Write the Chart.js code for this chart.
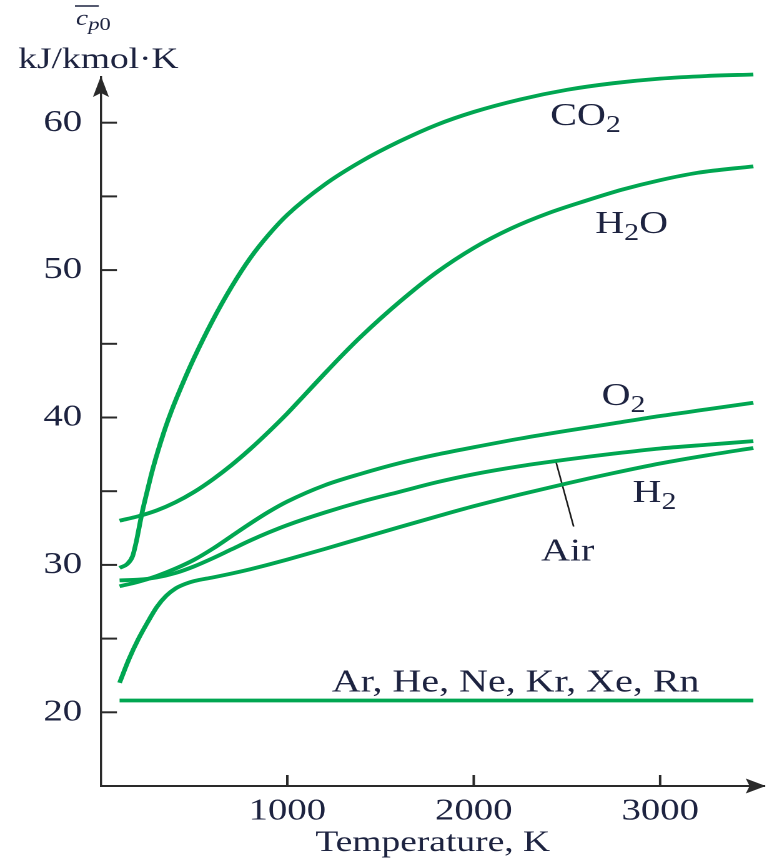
<!DOCTYPE html>
<html>
<head>
<meta charset="utf-8">
<script src="https://cdn.jsdelivr.net/npm/chart.js@4"></script>
<style>
  html, body { margin: 0; padding: 0; background: #fff; overflow: hidden; }
  /* the figure is set in a horizontally widened serif, so the whole canvas is stretched */
  #wrap { position: absolute; left: 0; top: 0; width: 614px; height: 860px;
          transform: scaleX(1.2492); transform-origin: 0 0; }
  canvas { display: block; }
</style>
</head>
<body>
<div id="wrap"><canvas id="chart" width="614" height="860" style="width:614px;height:860px"></canvas></div>
<script>
// Ideal-gas molar heat capacity c̄p0 (kJ/kmol·K) against temperature (K)
const co2T  = [100, 140, 170, 190, 220, 250, 280, 335, 380, 440, 500, 600, 700, 800, 900, 1000, 1200, 1400, 1600, 1800, 2000, 2250, 2500, 2750, 3000, 3250, 3500];
const co2Cp = [29.8, 30.05, 30.6, 31.6, 33.5, 35.1, 36.6, 38.9, 40.5, 42.35, 44.05, 46.6, 48.85, 50.8, 52.4, 53.75, 55.8, 57.4, 58.72, 59.85, 60.73, 61.58, 62.23, 62.68, 62.99, 63.17, 63.27];

const h2oT  = [100, 200, 300, 400, 500, 600, 700, 800, 900, 1000, 1100, 1200, 1300, 1400, 1600, 1800, 2000, 2200, 2400, 2600, 2800, 3000, 3200, 3500];
const h2oCp = [33.0, 33.3, 33.7, 34.25, 34.95, 35.8, 36.77, 37.85, 39.03, 40.28, 41.63, 42.98, 44.3, 45.55, 47.82, 49.84, 51.5, 52.82, 53.86, 54.7, 55.47, 56.1, 56.6, 57.04];

const o2T   = [100, 200, 300, 400, 500, 600, 700, 800, 900, 1000, 1200, 1400, 1600, 1800, 2000, 2250, 2500, 2750, 3000, 3250, 3500];
const o2Cp  = [28.55, 28.85, 29.25, 29.75, 30.35, 31.1, 31.95, 32.8, 33.6, 34.3, 35.4, 36.2, 36.9, 37.48, 37.98, 38.57, 39.1, 39.6, 40.1, 40.55, 41.0];

const airT  = [100, 200, 300, 400, 500, 600, 700, 800, 900, 1000, 1200, 1400, 1600, 1800, 2000, 2250, 2500, 2750, 3000, 3250, 3500];
const airCp = [28.95, 29.0, 29.15, 29.45, 29.9, 30.45, 31.05, 31.65, 32.2, 32.7, 33.55, 34.3, 34.95, 35.6, 36.15, 36.7, 37.15, 37.55, 37.9, 38.15, 38.4];

const h2T   = [100, 150, 200, 250, 300, 350, 400, 450, 500, 600, 700, 800, 900, 1000, 1200, 1400, 1600, 1800, 2000, 2250, 2500, 2750, 3000, 3250, 3500];
const h2Cp  = [22.0, 23.6, 24.95, 26.1, 27.15, 27.9, 28.4, 28.7, 28.9, 29.15, 29.41, 29.7, 30.02, 30.36, 31.08, 31.82, 32.56, 33.28, 33.98, 34.78, 35.53, 36.23, 36.88, 37.43, 37.93];

const monoT  = [100, 3500];
const monoCp = [20.8, 20.8];

// leader from the Air curve down to its label
const airLeaderT  = [2440, 2536];
const airLeaderCp = [37.05, 32.6];

// curve labels: text pieces ([text, isSubscript]) and anchor (centre T, baseline cp)
const labelParts = [
  [['CO', 0], ['2', 1]],
  [['H', 0], ['2', 1], ['O', 0]],
  [['O', 0], ['2', 1]],
  [['H', 0], ['2', 1]],
  [['Air', 0]],
  [['Ar, He, Ne, Kr, Xe, Rn', 0]]
];
const labelT  = [2600, 2847, 2804, 2970, 2504, 2225];
const labelCp = [59.85, 52.5, 40.84, 34.26, 30.3, 21.4];

const xTickValues = [1000, 2000, 3000];
const yTickValues = [20, 25, 30, 35, 40, 45, 50, 55, 60];

const SERIF = "'Liberation Serif', 'Times New Roman', Times, serif";
const GREEN = '#00a651';
const INK = '#1d2340';
const AXIS = '#2a2a2a';

function pts(xs, ys) { return xs.map((t, i) => ({ x: t, y: ys[i] })); }
function curve(xs, ys) {
  return { data: pts(xs, ys), borderColor: GREEN, borderWidth: 3.8, pointRadius: 0,
           cubicInterpolationMode: 'monotone', fill: false, clip: false };
}

function drawParts(ctx, parts, cx, baseY) {
  const mainFont = `32px ${SERIF}`, subFont = `24px ${SERIF}`;
  let w = 0;
  parts.forEach(([s, sub]) => { ctx.font = sub ? subFont : mainFont; w += ctx.measureText(s).width; });
  let xx = cx - w / 2;
  parts.forEach(([s, sub]) => {
    ctx.font = sub ? subFont : mainFont;
    ctx.fillText(s, xx, baseY + (sub ? 7 : 0));
    xx += ctx.measureText(s).width;
  });
}

const decor = {
  id: 'decor',
  afterDraw(chart) {
    const { ctx, scales: { x, y } } = chart;
    const x0 = x.getPixelForValue(x.min);
    const yb = y.getPixelForValue(y.min);
    const yTop = y.getPixelForValue(y.max);
    const xEnd = x.getPixelForValue(x.max);
    ctx.save();

    // inward tick marks
    ctx.strokeStyle = AXIS;
    ctx.lineWidth = 2;
    y.ticks.forEach(t => {
      const py = y.getPixelForValue(t.value);
      ctx.beginPath(); ctx.moveTo(x0, py); ctx.lineTo(x0 + 12.8, py); ctx.stroke();
    });
    x.ticks.forEach(t => {
      const px = x.getPixelForValue(t.value);
      ctx.beginPath(); ctx.moveTo(px, yb); ctx.lineTo(px, yb - 11); ctx.stroke();
    });

    // arrowheads
    ctx.fillStyle = AXIS;
    ctx.beginPath();
    ctx.moveTo(x0, yTop - 1);
    ctx.lineTo(x0 - 6.4, yTop + 20);
    ctx.lineTo(x0, yTop + 16);
    ctx.lineTo(x0 + 6.4, yTop + 20);
    ctx.closePath(); ctx.fill();
    ctx.beginPath();
    ctx.moveTo(xEnd + 1, yb);
    ctx.lineTo(xEnd - 15, yb - 7.5);
    ctx.lineTo(xEnd - 12, yb);
    ctx.lineTo(xEnd - 15, yb + 7.5);
    ctx.closePath(); ctx.fill();

    // curve labels
    ctx.fillStyle = INK;
    ctx.textAlign = 'left';
    ctx.textBaseline = 'alphabetic';
    labelParts.forEach((parts, i) => {
      drawParts(ctx, parts, x.getPixelForValue(labelT[i]), y.getPixelForValue(labelCp[i]));
    });

    // axis quantity: c̄p0 over its unit
    const cx = x0 - 20;
    ctx.font = `italic 22px ${SERIF}`;
    ctx.fillText('c', cx, 25);
    const cw = ctx.measureText('c').width;
    ctx.font = `italic 18px ${SERIF}`;
    ctx.fillText('p', cx + cw, 30);
    const pw = ctx.measureText('p').width;
    ctx.font = `18px ${SERIF}`;
    ctx.fillText('0', cx + cw + pw, 30);
    ctx.strokeStyle = INK;
    ctx.lineWidth = 1.6;
    ctx.beginPath(); ctx.moveTo(cx - 0.8, 6); ctx.lineTo(cx + cw + pw - 0.5, 6); ctx.stroke();

    ctx.font = `30px ${SERIF}`;
    ctx.textAlign = 'center';
    ctx.fillText('kJ/kmol\u00B7K', 78.8, 68);
    ctx.restore();
  }
};

const leader = {
  data: pts(airLeaderT, airLeaderCp), borderColor: '#1a1a1a', borderWidth: 1.3,
  pointRadius: 0, tension: 0, fill: false, clip: false
};

new Chart(document.getElementById('chart'), {
  type: 'line',
  data: {
    datasets: [
      curve(co2T, co2Cp),
      curve(h2oT, h2oCp),
      curve(o2T, o2Cp),
      curve(airT, airCp),
      curve(h2T, h2Cp),
      curve(monoT, monoCp),
      leader
    ]
  },
  options: {
    responsive: false,
    devicePixelRatio: 2,
    animation: false,
    events: [],
    layout: { padding: { top: 77, right: 2, left: 0, bottom: 0 } },
    plugins: { legend: { display: false }, tooltip: { enabled: false } },
    scales: {
      x: {
        type: 'linear', min: 0, max: 3560,
        afterFit(s) { s.height = 74; },
        afterBuildTicks(s) { s.ticks = xTickValues.map(v => ({ value: v })); },
        grid: { display: true, drawOnChartArea: false, drawTicks: false },
        border: { display: true, color: AXIS, width: 2 },
        ticks: {
          autoSkip: false, maxRotation: 0,
          padding: 10, color: INK, font: { family: SERIF, size: 31, lineHeight: 1 },
          callback: v => String(v)
        },
        title: {
          display: true, text: 'Temperature, K', color: INK,
          font: { family: SERIF, size: 30, lineHeight: 1 },
          padding: { top: 0, bottom: 2 }
        }
      },
      y: {
        type: 'linear', min: 15, max: 63.1,
        afterFit(s) { s.width = 80.8; },
        afterBuildTicks(s) { s.ticks = yTickValues.map(v => ({ value: v })); },
        grid: { display: true, drawOnChartArea: false, drawTicks: false },
        border: { display: true, color: AXIS, width: 1.7 },
        ticks: {
          autoSkip: false,
          padding: 15, color: INK, font: { family: SERIF, size: 31, lineHeight: 1 },
          callback: v => (v % 10 === 0 ? String(v) : '')
        }
      }
    }
  },
  plugins: [decor]
});
</script>
</body>
</html>
